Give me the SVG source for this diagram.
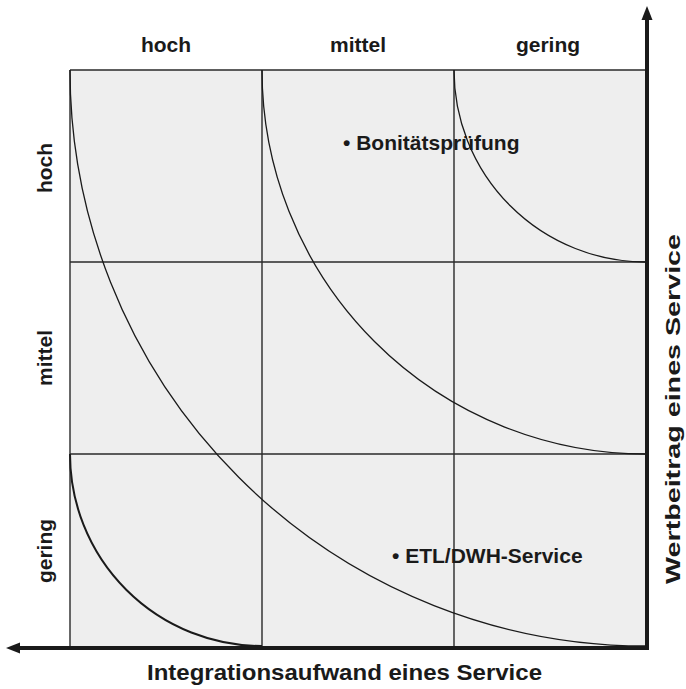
<svg xmlns="http://www.w3.org/2000/svg" width="686" height="689" viewBox="0 0 686 689">
<style>
.lbl{font-family:"Liberation Sans",Arial,sans-serif;font-weight:bold;font-size:21px;fill:#1a1a1a}
.ax{font-size:22px}
.grid{stroke:#2a2a2a;stroke-width:1.4;fill:none}
.curve{stroke:#1a1a1a;stroke-width:1.3;fill:none}
.axis{stroke:#1a1a1a;stroke-width:4;fill:none}
</style>
<g id="matrix">
<rect x="70" y="70" width="576" height="576" fill="#eeeeee"/>
<path class="grid" d="M70,70H646M70,262H646M70,454H646M70,70V646M262,70V646M454,70V646"/>
</g>
<g id="curves">
<path class="curve" d="M70,70A576,576 0 0 0 646,646"/>
<path class="curve" d="M262,70A384,384 0 0 0 646,454"/>
<path class="curve" d="M454,70A192,192 0 0 0 646,262"/>
<path class="curve" style="stroke-width:2" d="M70,454A192,192 0 0 0 262,646"/>
</g>
<g id="axes">
<path class="axis" d="M18,648H649"/>
<polygon points="6,648 20,642.5 20,653.5" fill="#1a1a1a"/>
<path class="axis" d="M647,650V18"/>
<polygon points="647,6 641.5,20 652.5,20" fill="#1a1a1a"/>
</g>
<g id="col-labels">
<text class="lbl" x="166" y="52" text-anchor="middle">hoch</text>
<text class="lbl" x="358" y="52" text-anchor="middle">mittel</text>
<text class="lbl" x="548" y="52" text-anchor="middle">gering</text>
</g>
<g id="row-labels">
<text class="lbl" transform="translate(52,168) rotate(-90)" text-anchor="middle">hoch</text>
<text class="lbl" transform="translate(52,358) rotate(-90)" text-anchor="middle">mittel</text>
<text class="lbl" transform="translate(52,551) rotate(-90)" text-anchor="middle">gering</text>
</g>
<g id="axis-labels">
<text class="lbl ax" x="147" y="680" textLength="395" lengthAdjust="spacingAndGlyphs">Integrationsaufwand eines Service</text>
<text class="lbl" transform="translate(680,584) rotate(-90)" textLength="350" lengthAdjust="spacingAndGlyphs">Wertbeitrag eines Service</text>
</g>
<g id="node-bonitaet">
<text class="lbl" x="343" y="150">• Bonitätsprüfung</text>
</g>
<g id="node-etl">
<text class="lbl" x="392" y="563">• ETL/DWH-Service</text>
</g>
</svg>
